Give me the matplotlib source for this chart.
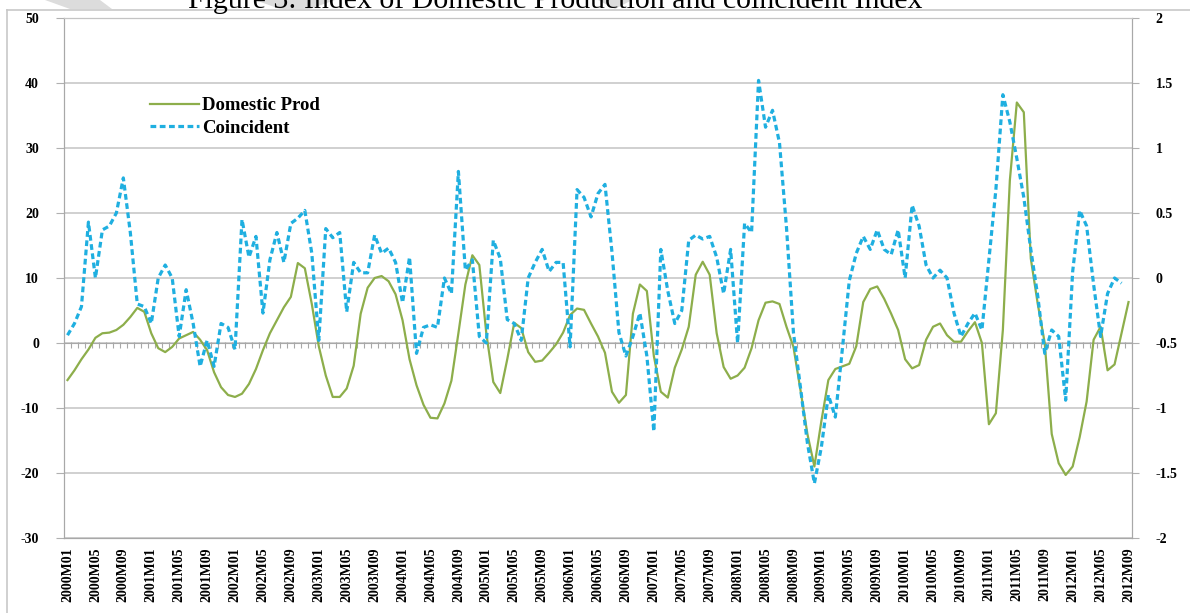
import numpy as np
import matplotlib.pyplot as plt
from matplotlib.lines import Line2D
from matplotlib.patches import Polygon

# monthly labels 2000M01 .. 2012M09
months = [f'{y}M{m:02d}' for y in range(2000, 2013) for m in range(1, 13)][:153]

# index of domestic production (left axis)
domestic_prod = [
    -5.7, -4.2, -2.5, -1.0, 0.8, 1.5, 1.6, 2.0, 2.8, 4.0, 5.4, 4.8,
    1.5, -0.8, -1.4, -0.6, 0.7, 1.2, 1.7, 0.5, -1.1, -4.5, -6.8, -8.0,
    -8.3, -7.8, -6.3, -4.0, -1.1, 1.5, 3.5, 5.5, 7.1, 12.3, 11.5, 6.0,
    -0.5, -5.0, -8.3, -8.3, -7.0, -3.5, 4.5, 8.5, 10.0, 10.3, 9.5, 7.5,
    3.5, -2.5, -6.5, -9.5, -11.5, -11.6, -9.3, -5.8, 1.5, 9.0, 13.5, 12.0,
    1.5, -6.0, -7.7, -2.5, 3.1, 2.3, -1.4, -2.9, -2.7, -1.5, -0.2, 1.6,
    4.3, 5.3, 5.1, 3.0, 1.0, -1.5, -7.5, -9.2, -8.0, 4.5, 9.0, 8.0,
    -2.0, -7.5, -8.4, -3.8, -1.0, 2.5, 10.5, 12.5, 10.5, 1.5, -3.7, -5.5,
    -5.0, -3.8, -0.8, 3.5, 6.2, 6.4, 6.0, 2.5, -0.6, -7.2, -14.0, -19.0,
    -12.0, -5.7, -4.0, -3.6, -3.2, -0.5, 6.3, 8.3, 8.7, 6.8, 4.5, 2.0,
    -2.5, -3.9, -3.4, 0.5, 2.5, 3.0, 1.2, 0.2, 0.2, 1.8, 3.2, 0.0,
    -12.5, -10.8, 2.0, 25.0, 37.0, 35.5, 13.0, 6.0, 0.0, -14.0, -18.5, -20.3,
    -19.0, -14.5, -9.0, 0.5, 2.5, -4.2, -3.3, 1.5, 6.3,
]

# coincident index (right axis), no value for the last month
coincident = [
    -0.44, -0.35, -0.22, 0.43, 0.0, 0.37, 0.40, 0.50, 0.77, 0.35, -0.20, -0.22,
    -0.35, 0.0, 0.10, 0.0, -0.45, -0.09, -0.35, -0.68, -0.48, -0.68, -0.35, -0.38,
    -0.55, 0.45, 0.16, 0.32, -0.27, 0.14, 0.35, 0.12, 0.42, 0.46, 0.52, 0.19,
    -0.48, 0.38, 0.31, 0.35, -0.26, 0.12, 0.04, 0.04, 0.33, 0.19, 0.23, 0.12,
    -0.19, 0.16, -0.58, -0.38, -0.36, -0.38, 0.0, -0.12, 0.82, 0.06, 0.14, -0.45,
    -0.50, 0.29, 0.15, -0.32, -0.35, -0.48, 0.0, 0.12, 0.22, 0.05, 0.12, 0.12,
    -0.53, 0.68, 0.62, 0.47, 0.65, 0.72, 0.20, -0.42, -0.60, -0.45, -0.27, -0.60,
    -1.18, 0.22, -0.10, -0.35, -0.25, 0.29, 0.33, 0.30, 0.32, 0.16, -0.12, 0.22,
    -0.50, 0.42, 0.35, 1.52, 1.16, 1.29, 1.04, 0.39, -0.42, -0.84, -1.27, -1.58,
    -1.30, -0.90, -1.07, -0.55, -0.02, 0.19, 0.32, 0.22, 0.37, 0.22, 0.18, 0.37,
    0.0, 0.56, 0.40, 0.10, 0.0, 0.06, 0.0, -0.27, -0.45, -0.35, -0.27, -0.40,
    0.14, 0.68, 1.41, 1.20, 0.92, 0.62, 0.22, -0.14, -0.58, -0.40, -0.45, -0.94,
    0.05, 0.52, 0.40, -0.05, -0.45, -0.12, 0.0, -0.04, np.nan,
]

left_ticks = [-30, -20, -10, 0, 10, 20, 30, 40, 50]
right_ticks = [-2, -1.5, -1, -0.5, 0, 0.5, 1, 1.5, 2]
right_labels = ['-2', '-1.5', '-1', '-0.5', '0', '0.5', '1', '1.5', '2']

plt.rcParams['font.family'] = ['Liberation Serif', 'DejaVu Serif']
plt.rcParams['font.weight'] = 'bold'

W, H = 1190, 613
fig = plt.figure(figsize=(W / 100, H / 100), dpi=100)


def px(x, y):
    return (x / W, 1 - y / H)


# light grey shapes behind the heading
for pts in [[(45, 0), (100, 0), (112, 9), (70, 9)],
            [(255, 0), (335, 0), (310, 9), (280, 9)],
            [(598, 0), (632, 0), (615, 9)]]:
    fig.add_artist(Polygon([px(*p) for p in pts], closed=True, transform=fig.transFigure,
                           facecolor='#dcdcdc', edgecolor='none', zorder=0))

fig.text(555 / W, 1 - 8 / H, 'Figure 3: Index of Domestic Production and coincident Index',
         ha='center', va='baseline', fontsize=21.5, fontweight='normal', zorder=2)

# chart area border
fig.add_artist(Line2D([7 / W, 1], [1 - 10 / H] * 2, transform=fig.transFigure, color='#c8c8c8', lw=1.2))
fig.add_artist(Line2D([7 / W] * 2, [0, 1 - 10 / H], transform=fig.transFigure, color='#c8c8c8', lw=1.2))

ax = fig.add_axes([64 / W, 75 / H, 1068 / W, 520 / H])
ax2 = ax.twinx()

x = np.arange(len(months))
ax.plot(x, domestic_prod, color='#8DAE4B', lw=1.6, label='Domestic Prod', zorder=3)
ax2.plot(x, coincident, color='#1FAFE0', lw=2.3, dashes=(1.8, 1.1), label='Coincident', zorder=3)

ax.set_xlim(-0.5, len(months) - 0.5)
ax.set_ylim(-30, 50)
ax2.set_ylim(-2, 2)
ax.set_yticks(left_ticks)
ax.set_yticklabels([str(v) for v in left_ticks])
ax2.set_yticks(right_ticks)
ax2.set_yticklabels(right_labels)

ax.grid(axis='y', color='#c4c4c4', lw=1.1)
ax.set_axisbelow(True)

# category axis crossing at zero, with a tick at every month
ax.axhline(0, color='#a8a8a8', lw=0.8, zorder=1)
ax.vlines(np.arange(len(months) + 1) - 0.5, -0.8, 0.2, color='#a8a8a8', lw=0.8, zorder=1)

ax.set_xticks(x[::4])
ax.set_xticklabels(months[::4], rotation=90, fontsize=10)
ax.tick_params(axis='x', length=0, pad=7)
ax.tick_params(axis='y', length=6, color='#b0b0b0', labelsize=10, pad=12)
ax2.tick_params(axis='y', length=5, color='#b0b0b0', labelsize=10, pad=12)

for a in (ax, ax2):
    for side in ('left', 'right', 'bottom'):
        a.spines[side].set_color('#a8a8a8')
    a.spines['top'].set_color('#c4c4c4')

handles = ax.get_lines()[:1] + ax2.get_lines()[:1]
ax2.legend(handles, ['Domestic Prod', 'Coincident'], loc='upper left',
           bbox_to_anchor=(0.0805, 0.848), frameon=False, fontsize=13.5,
           handlelength=2.6, handletextpad=0.2, labelspacing=0.3,
           borderpad=0, borderaxespad=0)

fig.savefig('out.png', dpi=100)
